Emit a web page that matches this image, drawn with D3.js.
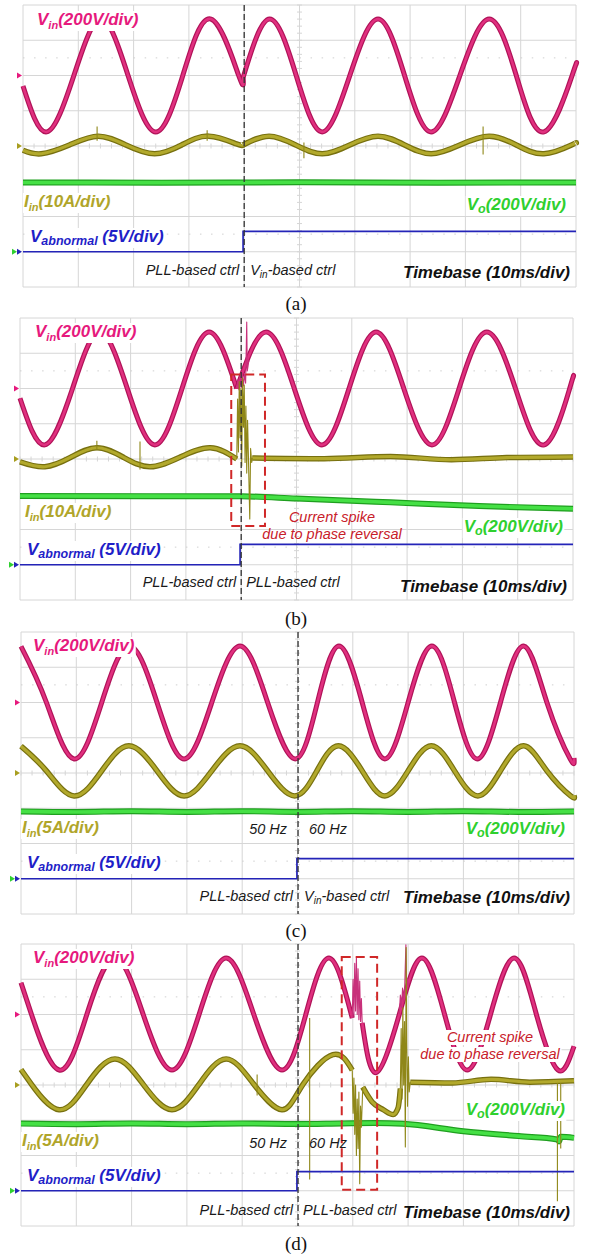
<!DOCTYPE html>
<html>
<head>
<meta charset="utf-8">
<title>Vin / Iin / Vo / Vabnormal waveforms</title>
<script src="https://cdnjs.cloudflare.com/ajax/libs/d3/7.8.5/d3.min.js"></script>
<style>
  body { margin: 0; background: #fff; }
  svg { display: block; }
  .lab { font-family: "Liberation Sans", Arial, sans-serif; font-weight: bold; font-style: italic; font-size: 17px; }
  .note { font-family: "Liberation Sans", Arial, sans-serif; font-style: italic; font-size: 14.5px; }
  .cap { font-family: "Liberation Serif", "Times New Roman", serif; font-size: 19px; }
</style>
</head>
<body>
<div id="container"></div>
<script>
// ---------- data: t in ms (10 ms/div), Vin & Vo in V, Iin in A, Vabnormal in V ----------
var captions = ["(a)", "(b)", "(c)", "(d)"];
var iinScales = ["(10A/div)", "(10A/div)", "(5A/div)", "(5A/div)"];
var iinPerDiv = [10, 10, 5, 5];
var leftCtrl = ["PLL-based ctrl", "PLL-based ctrl", "PLL-based ctrl", "PLL-based ctrl"];
var rightCtrl = ["Vin", "PLL", "Vin", "PLL"];
var switchT = [40, 40, 50.1, 50.1];

// (a) PLL -> Vin-based control
var vinA1 = [[0,-60],[4.3,-320],[9.2,0],[14.1,320],[19.0,0],[24.0,-320],[28.9,0],[34.0,320],[39.0,0],[39.8,-12]];
var vinA2 = [[39.8,-12],[44.6,320],[49.4,0],[54.1,-320],[59.1,0],[64.2,320],[69.0,0],[73.8,-320],[79.0,0],[84.3,320],[89.2,0],[94.2,-320],[99.3,0],[100,60]];
var iinA1 = [[0,-1.2],[3.3,-2.2],[8.4,0.3],[13.6,2.8],[18.6,0.3],[23.8,-2.2],[28.7,0.3],[33.6,2.8],[38.6,0.6],[39.8,0.3]];
var iinA2 = [[39.8,0.3],[44.5,2.8],[49.3,0.3],[54.1,-2.2],[59.1,0.3],[64.2,2.8],[69.0,0.3],[73.8,-2.2],[79.0,0.3],[84.3,2.8],[89.2,0.3],[94.2,-2.2],[99.2,0.3],[100,0.8]];
var iinSpikesA = [[13.4,1.5,5.5],[33.3,1.5,4.5],[50.8,1.0,-3.5],[83.2,5.5,-2.4]];
var voA = [[0,393],[25,392],[50,394],[75,392],[100,393]];
var vabnA = [[0,0],[39.8,2.9],[100,2.9]];

// (b) PLL control kept through the phase reversal
var vinB1 = [[0,-55],[4.5,-320],[9.5,0],[14.4,320],[19.4,0],[24.4,-320],[29.3,0],[34.2,320],[39.2,0]];
var vinB2 = [[39.2,0],[44.5,320],[49.6,0],[54.6,-320],[59.5,0],[64.4,320],[69.4,0],[74.5,-320],[79.4,0],[84.4,320],[89.6,0],[94.8,-320],[99.4,0],[100,60]];
var vinChaosB = [[39.2,0],[39.4,50],[39.6,-8],[39.8,70],[40.0,5],[40.2,85],[40.4,15],[40.6,80],[40.8,30],[41.0,377],[41.1,100],[41.25,130],[41.4,160]];
var iinB1 = [[0,-0.8],[4.5,-2.2],[9.2,0.5],[13.9,3.2],[18.7,0.5],[23.5,-2.2],[28.9,0.5],[34.4,3.2],[39.2,0]];
var iinChaosB = [[39.2,0],[39.35,17],[39.5,2],[39.65,22],[39.8,6],[39.95,20],[40.1,-2],[40.25,23],[40.4,9],[40.55,21],[40.7,-1],[40.85,15],[41.0,-4],[41.15,11],[41.3,1],[41.55,-17],[41.7,3],[41.9,-1],[42.0,0.3]];
var iinB2 = [[42,0.3],[55,0.1],[67,0.7],[78,-0.2],[88,0.4],[100,0.6]];
var iinSpikesB = [[13.9,2.5,5.2],[21.7,5,-3]];
var voB = [[0,390],[40,388],[50,376],[67,354],[83,333],[100,318]];
var vabnB = [[0,0],[39.8,2.9],[100,2.9]];

// (c) 50 Hz -> 60 Hz, PLL -> Vin-based control
var vinC = [[0,318],[4.6,0],[9.6,-320],[14.6,0],[19.6,320],[24.6,0],[29.5,-320],[34.5,0],[39.6,320],[44.6,0],[49.6,-320],[53.6,0],[57.5,320],[61.7,0],[65.8,-320],[70.0,0],[74.3,320],[78.4,0],[82.5,-320],[86.7,0],[90.9,320],[95.1,0],[99.3,-320],[100,-315]];
var iinC = [[0,3.8],[4.6,0.3],[9.6,-3.25],[14.6,0.3],[19.5,3.85],[24.6,0.3],[29.5,-3.25],[34.5,0.3],[39.6,3.85],[44.6,0.3],[49.5,-3.25],[53.5,0.3],[57.4,3.85],[61.7,0.3],[65.8,-3.25],[70.0,0.3],[74.2,3.85],[78.4,0.3],[82.6,-3.25],[86.7,0.3],[90.9,3.85],[95.1,0.3],[99.4,-3.25],[100,-3.2]];
var voC = [[0,382],[10,379],[20,383],[30,379],[40,383],[50,379],[60,383],[70,379],[80,383],[90,379],[100,382]];
var vabnC = [[0,0],[49.9,2.85],[100,2.85]];

// (d) 50 Hz -> 60 Hz, PLL control kept
var vinD1 = [[0,180],[1.9,0],[6.9,-315],[11.9,0],[17.0,320],[22.1,0],[27.3,-315],[32.2,0],[37.1,320],[42.1,0],[47.2,-315],[51.5,0],[55.7,320],[59.9,-20]];
var vinChaosD1 = [[59.9,-20],[60.05,200],[60.2,-10],[60.35,290],[60.5,20],[60.65,327],[60.8,0],[60.95,260],[61.1,-30],[61.25,190],[61.4,-40],[61.55,90],[61.7,-48]];
var vinD2 = [[61.7,-48],[64.2,-330],[68.4,0],[72.5,320],[76.6,0],[80.7,-315],[84.9,0],[89.2,320],[93.2,0],[97.1,-315],[100,-180]];
var vinChaosD2 = [[68.4,0],[68.6,110],[68.8,40],[69.0,150],[69.2,70],[69.4,170],[69.6,395],[69.7,120],[69.9,200],[70.1,160]];
var iinD1 = [[0,2.2],[1.9,0.1],[6.9,-3.5],[11.9,0.1],[17.0,3.7],[22.1,0.1],[27.3,-3.5],[32.2,0.1],[37.1,3.7],[42.1,0.1],[47.2,-3.5],[51.0,0.1],[56.4,4.3],[59.9,2.1]];
var iinChaosD1 = [[59.9,2.1],[60.05,-4],[60.2,1],[60.35,-7],[60.5,0],[60.65,-10],[60.8,-2],[60.95,-9],[61.1,-1],[61.25,-14],[61.4,-3],[61.55,-6],[61.8,-0.3]];
var iinD2 = [[61.8,-0.3],[63.5,-2.4],[65.5,-3.5],[67.3,-4.2],[68.2,-3.2],[68.6,-0.5]];
var iinChaosD2 = [[68.6,-0.5],[68.75,8],[68.9,-2],[69.05,11],[69.2,0],[69.35,9],[69.5,-8.8],[69.65,19.5],[69.75,6],[69.9,-3],[70.05,4],[70.2,-1],[70.4,0.4]];
var iinD3 = [[70.4,0.4],[78,0.3],[85,0.8],[92,0.4],[100,0.6]];
var iinSpikesD = [[42.7,-1.5,1.5],[52.2,9.5,-13.4],[97.0,0.3,-16.5],[97.6,0.3,-9]];
var voD = [[0,381],[10,378],[20,382],[30,378],[40,382],[50,379],[58,382],[64,384],[69,380],[80,338],[90,310],[97,291],[97.3,280],[97.6,306],[100,300]];
var vabnD = [[0,0],[49.9,2.7],[100,2.7]];

// ---------- layout ----------
var W = 591, H = 1258;
var plotW = 553, plotH = 282;
var tops = [5, 318, 632, 944];
var lefts = [23, 20, 21, 21];

var pink = {dark: "#b01258", light: "#e0307f", text: "#e6197d"};
var olive = {dark: "#77700f", light: "#b2a92c", text: "#b0a52a"};
var green = {dark: "#1f9f1f", light: "#45e045", text: "#2fd02f"};
var blue = "#2424b8";
var red = "#d02828";

var svg = d3.select("#container").append("svg")
    .attr("width", W).attr("height", H);

// tables built from the arrays above
var panels = [
  {vin: [vinA1, vinA2], vinChaos: [], iin: [iinA1, iinA2], iinChaos: [], spikes: iinSpikesA, vo: voA, vabn: vabnA,
   lab: {vin:[14,20], iin:[1,202], vabn:[7,237], vo:[543,205], ctrl:270, tb:[547,273], cap:310}},
  {vin: [vinB1, vinB2], vinChaos: [vinChaosB], iin: [iinB1, iinB2], iinChaos: [iinChaosB], spikes: iinSpikesB, vo: voB, vabn: vabnB,
   box: [38.2, 44.3, 2.4, -1.9], note: [332, 204],
   lab: {vin:[15,19], iin:[5,199], vabn:[7,237], vo:[543,214], ctrl:269, tb:[547,274], cap:625}},
  {vin: [vinC], vinChaos: [], iin: [iinC], iinChaos: [], spikes: [], vo: voC, vabn: vabnC, hz: 202,
   lab: {vin:[12,19], iin:[1,201], vabn:[6,236], vo:[544,202], ctrl:269, tb:[549,271], cap:937}},
  {vin: [vinD1, vinD2], vinChaos: [vinChaosD1, vinChaosD2], iin: [iinD1, iinD2, iinD3], iinChaos: [iinChaosD1, iinChaosD2], spikes: iinSpikesD, vo: voD, vabn: vabnD,
   box: [58.0, 64.4, 3.63, -2.97], note: [490, 98], hz: 204, noteBg: true,
   lab: {vin:[12,19], iin:[1,202], vabn:[6,237], vo:[544,171], ctrl:271, tb:[549,274], cap:1250}}
];

function label(g, x, y, parts, cls, color, anchor, subSize, subDy, bg) {
  var t = g.append("text").attr("class", cls).attr("x", x).attr("y", y)
      .attr("fill", color).attr("text-anchor", anchor || "start");
  var down = false;
  parts.forEach(function(p) {
    var s = t.append("tspan").text(p[0]);
    if (p[1]) {
      s.attr("font-size", subSize);
      if (!down) { s.attr("dy", subDy); down = true; }
    } else if (down) {
      s.attr("dy", -subDy); down = false;
    }
  });
  if (bg) {
    var b = t.node().getBBox();
    g.insert("rect", function() { return t.node(); })
      .attr("x", b.x - 1).attr("y", b.y + 1).attr("width", b.width + 2).attr("height", b.height - 1)
      .attr("fill", "#fff");
  }
  return t;
}

panels.forEach(function(p, i) {
  var L = lefts[i], T = tops[i];
  var g = svg.append("g");
  var x = d3.scaleLinear().domain([0, 100]).range([L, L + plotW]);
  var y = d3.scaleLinear().domain([-4, 4]).range([T + plotH, T]);

  // grid
  var grid = g.append("g").attr("stroke", "#d6d6d6").attr("stroke-width", 1);
  d3.range(0, 101, 10).forEach(function(v) {
    grid.append("line").attr("x1", x(v)).attr("x2", x(v)).attr("y1", y(4)).attr("y2", y(-4));
  });
  d3.range(-4, 4.01, 1).forEach(function(v) {
    grid.append("line").attr("x1", x(0)).attr("x2", x(100)).attr("y1", y(v)).attr("y2", y(v));
  });
  [2.5, -2.5].forEach(function(v) {
    grid.append("line").attr("x1", x(0)).attr("x2", x(100)).attr("y1", y(v)).attr("y2", y(v))
      .attr("stroke", "#cfcfcf").attr("stroke-dasharray", "1.5,9.56");
  });
  d3.range(0, 100.01, 2).forEach(function(v) {
    grid.append("line").attr("x1", x(v)).attr("x2", x(v)).attr("y1", y(0) - 2.5).attr("y2", y(0) + 2.5);
  });
  d3.range(-4, 4.01, 0.2).forEach(function(v) {
    grid.append("line").attr("x1", x(50) - 2.5).attr("x2", x(50) + 2.5).attr("y1", y(v)).attr("y2", y(v));
  });

  // channel mappings
  var yVin = function(v) { return y(2 + v / 200); };
  var yIin = function(v) { return y(v / iinPerDiv[i]); };
  var yVo = function(v) { return y(-3 + v / 200); };
  var yAb = function(v) { return y(-3 + v / 5); };

  function band(pts, fy, col, w, curve) {
    var line = d3.line().x(function(d) { return x(d[0]); }).y(function(d) { return fy(d[1]); }).curve(curve);
    g.append("path").attr("d", line(pts)).attr("fill", "none").attr("stroke", col.dark)
      .attr("stroke-width", w).attr("stroke-linejoin", "round");
    g.append("path").attr("d", line(pts)).attr("fill", "none").attr("stroke", col.light)
      .attr("stroke-width", w - 2.4).attr("stroke-linejoin", "round");
  }
  function thin(pts, fy, col, w) {
    var line = d3.line().x(function(d) { return x(d[0]); }).y(function(d) { return fy(d[1]); });
    g.append("path").attr("d", line(pts)).attr("fill", "none").attr("stroke", col)
      .attr("stroke-width", w).attr("stroke-linejoin", "round");
  }

  // traces
  band(p.vo, yVo, green, 6, d3.curveMonotoneX);
  p.iin.forEach(function(s, k) {
    band(s, yIin, olive, 5.5, (i === 1 && k === 1) || (i === 3 && k > 0) ? d3.curveMonotoneX : d3.curveNatural);
  });
  p.vin.forEach(function(s) { band(s, yVin, pink, 5, d3.curveNatural); });
  p.vinChaos.forEach(function(s) { thin(s, yVin, "#c8307a", 1.1); });
  p.iinChaos.forEach(function(s) { thin(s, yIin, "#8f8718", 1.1); });
  p.spikes.forEach(function(s) {
    g.append("line").attr("x1", x(s[0])).attr("x2", x(s[0])).attr("y1", yIin(s[1])).attr("y2", yIin(s[2]))
      .attr("stroke", "#8f8718").attr("stroke-width", 1.1);
  });
  g.append("path")
    .attr("d", d3.line().x(function(d) { return x(d[0]); }).y(function(d) { return yAb(d[1]); }).curve(d3.curveStepAfter)(p.vabn))
    .attr("fill", "none").attr("stroke", blue).attr("stroke-width", 1.7);

  // ground markers
  function marker(xr, yy, col) {
    g.append("path").attr("d", "M" + (xr - 5) + "," + (yy - 3) + "L" + xr + "," + yy + "L" + (xr - 5) + "," + (yy + 3) + "Z")
      .attr("fill", col);
  }
  marker(L - 1, y(2), "#e6197d");
  marker(L - 1, y(0), "#a89e20");
  marker(L - 6, y(-3), "#30d030");
  marker(L - 1, y(-3), blue);

  // transition line
  var sw = x(switchT[i]);
  g.append("line").attr("x1", sw).attr("x2", sw).attr("y1", y(4)).attr("y2", y(-4))
    .attr("stroke", "#333").attr("stroke-width", 1.3).attr("stroke-dasharray", "6,3");

  // spike box
  if (p.box) {
    g.append("rect").attr("x", x(p.box[0])).attr("y", y(p.box[2]))
      .attr("width", x(p.box[1]) - x(p.box[0])).attr("height", y(p.box[3]) - y(p.box[2]))
      .attr("fill", "none").attr("stroke", red).attr("stroke-width", 2).attr("stroke-dasharray", "9,5");
  }

  // labels
  var lb = p.lab;
  label(g, L + lb.vin[0], T + lb.vin[1], [["V",0],["in",1],["(200V/div)",0]], "lab", pink.text, "start", 11, 4, true);
  label(g, L + lb.iin[0], T + lb.iin[1], [["I",0],["in",1],[iinScales[i],0]], "lab", olive.text, "start", 11, 4, true);
  label(g, L + lb.vabn[0], T + lb.vabn[1], [["V",0],["abnormal",1],[" (5V/div)",0]], "lab", "#1f1fc8", "start", 12.5, 3, true);
  label(g, L + lb.vo[0], T + lb.vo[1], [["V",0],["o",1],["(200V/div)",0]], "lab", green.text, "end", 12.5, 3, true);
  label(g, L + lb.tb[0], T + lb.tb[1], [["Timebase (10ms/div)",0]], "lab", "#111", "end", 12, 0, false);
  label(g, sw - 5, T + lb.ctrl, [[leftCtrl[i],0]], "note", "#1a1a1a", "end", 10, 0, false);
  if (rightCtrl[i] === "Vin") {
    label(g, sw + 6, T + lb.ctrl, [["V",0],["in",1],["-based ctrl",0]], "note", "#1a1a1a", "start", 10, 3, false);
  } else {
    label(g, sw + 5, T + lb.ctrl, [["PLL-based ctrl",0]], "note", "#1a1a1a", "start", 10, 0, false);
  }
  if (p.hz) {
    label(g, sw - 11, T + p.hz, [["50 Hz",0]], "note", "#1a1a1a", "end", 10, 0, false);
    label(g, sw + 11, T + p.hz, [["60 Hz",0]], "note", "#1a1a1a", "start", 10, 0, false);
  }
  if (p.note) {
    label(g, p.note[0], T + p.note[1], [["Current spike",0]], "note", "#c8202a", "middle", 10, 0, !!p.noteBg);
    label(g, p.note[0], T + p.note[1] + 17, [["due to phase reversal",0]], "note", "#c8202a", "middle", 10, 0, !!p.noteBg);
  }
  svg.append("text").attr("class", "cap").attr("x", 296).attr("y", lb.cap)
    .attr("text-anchor", "middle").attr("fill", "#111").text(captions[i]);
});
</script>
</body>
</html>
